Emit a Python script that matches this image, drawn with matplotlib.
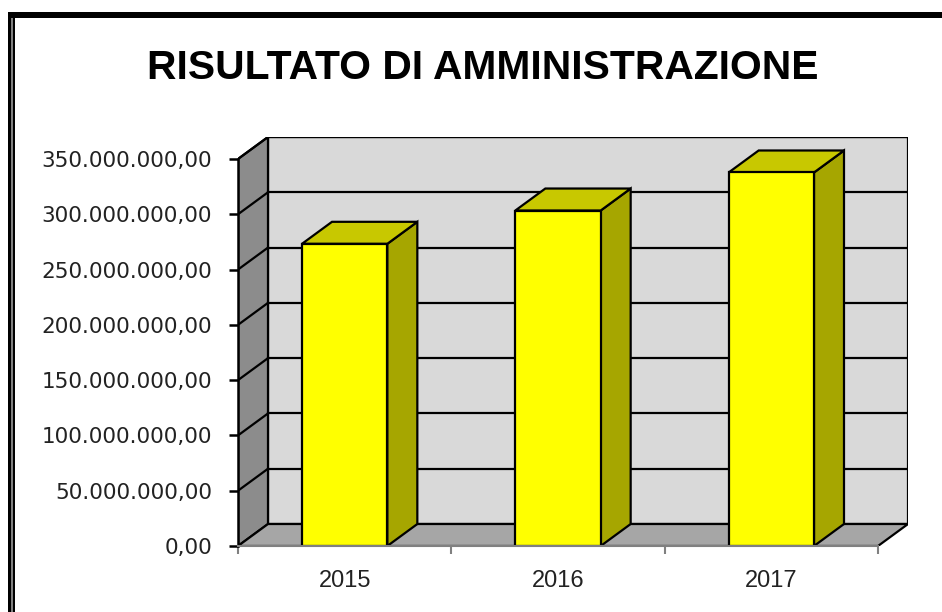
import matplotlib
matplotlib.use('Agg')
import matplotlib.pyplot as plt
from matplotlib.patches import Polygon, Rectangle
from matplotlib.ticker import FuncFormatter

years = ['2015', '2016', '2017']
values = [273.3e6, 303.4e6, 337.8e6]
yticks = [0, 50e6, 100e6, 150e6, 200e6, 250e6, 300e6, 350e6]
title = 'RISULTATO DI AMMINISTRAZIONE'

plt.rcParams['font.family'] = ['DejaVu Sans']

W, H = 942, 612
fig = plt.figure(figsize=(W / 100, H / 100), dpi=100)

# front plane in pixels: x 238..878, y 546 (0) .. 159 (350M); depth offset 30px right, 22px up
front_l, front_r, front_b, front_t = 238, 878, 546, 159
dpx, dpy = 30, 22
ymax = yticks[-1]
ux = (front_r - front_l) / len(years)          # px per category
uy = (front_b - front_t) / ymax                # px per unit value
ddx = dpx / ux
ddy = dpy / uy

ax = fig.add_axes([front_l / W, (H - front_b) / H,
                   (front_r - front_l + dpx) / W, (front_b - front_t + dpy) / H])
ax.set_xlim(-0.5, len(years) - 0.5 + ddx)
ax.set_ylim(0, ymax + ddy)
ax.patch.set_visible(False)

x0 = -0.5
x1 = len(years) - 0.5
edge = dict(edgecolor='black', linewidth=1.6, joinstyle='miter')

# walls
ax.add_patch(Polygon([(x0 + ddx, ddy), (x1 + ddx, ddy), (x1 + ddx, ymax + ddy), (x0 + ddx, ymax + ddy)],
                     facecolor='#d9d9d9', zorder=1, **edge))
ax.add_patch(Polygon([(x0, 0), (x0 + ddx, ddy), (x0 + ddx, ymax + ddy), (x0, ymax)],
                     facecolor='#8c8c8c', zorder=1, **edge))
ax.add_patch(Polygon([(x0, 0), (x1, 0), (x1 + ddx, ddy), (x0 + ddx, ddy)],
                     facecolor='#a6a6a6', zorder=1, **edge))

# gridlines on back and side wall
for v in yticks[1:]:
    ax.plot([x0 + ddx, x1 + ddx], [v + ddy, v + ddy], color='black', lw=1.6, zorder=2)
    ax.plot([x0, x0 + ddx], [v, v + ddy], color='black', lw=1.6, zorder=2)

# bars
w = 0.2
for i, v in enumerate(values):
    ax.add_patch(Polygon([(i + w, 0), (i + w + ddx, ddy), (i + w + ddx, v + ddy), (i + w, v)],
                         facecolor='#a6a600', zorder=3, **edge))
    ax.add_patch(Polygon([(i - w, v), (i + w, v), (i + w + ddx, v + ddy), (i - w + ddx, v + ddy)],
                         facecolor='#c8c800', zorder=3, **edge))
    ax.add_patch(Rectangle((i - w, 0), 2 * w, v, facecolor='#ffff00', zorder=4, **edge))

# axes
for s in ['top', 'right']:
    ax.spines[s].set_visible(False)
ax.spines['left'].set_bounds(0, ymax)
ax.spines['left'].set_linewidth(1.8)
ax.spines['left'].set_zorder(5)
ax.spines['bottom'].set_bounds(x0, x1)
ax.spines['bottom'].set_color('#808080')
ax.spines['bottom'].set_linewidth(1.5)
ax.spines['bottom'].set_zorder(5)

ax.set_yticks(yticks)
ax.yaxis.set_major_formatter(FuncFormatter(
    lambda v, p: '{:,.2f}'.format(v).replace(',', 'X').replace('.', ',').replace('X', '.')))
ax.tick_params(axis='y', length=6.5, width=1.8, pad=12, labelsize=15.5, labelcolor='#222222')

ax.set_xticks(range(len(years)))
ax.set_xticklabels(years, family=['Liberation Sans', 'DejaVu Sans'])
ax.set_xticks([x0 + k for k in range(len(years) + 1)], minor=True)
ax.tick_params(axis='x', which='major', length=0, pad=17, labelsize=17, labelcolor='#222222')
ax.tick_params(axis='x', which='minor', length=6, width=1.5, color='#808080')

# title
t = fig.text(483 / W, 1 - 68 / H, title, ha='center', va='center', fontweight='bold',
             family=['Liberation Sans Narrow', 'Liberation Sans', 'DejaVu Sans'], fontsize=36)
fig.canvas.draw()
tw = t.get_window_extent().width
t.set_fontsize(36 * 670 / tw)

# frame of the picture
fig.patches.append(Rectangle((8 / W, 1 - 18 / H), 1, 6 / H, transform=fig.transFigure,
                             facecolor='black', edgecolor='none'))
fig.patches.append(Rectangle((8 / W, 0), 7 / W, 1 - 12 / H, transform=fig.transFigure,
                             facecolor='black', edgecolor='none'))
fig.patches.append(Rectangle((10.5 / W, 0), 2 / W, 1 - 18 / H, transform=fig.transFigure,
                             facecolor='#808080', edgecolor='none'))

fig.savefig('out.png', dpi=100)
